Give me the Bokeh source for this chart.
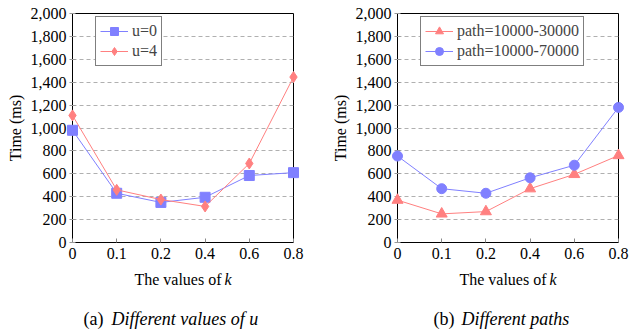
from bokeh.plotting import figure
from bokeh.models import Range1d, FixedTicker, NumeralTickFormatter
from bokeh.core.properties import value
from bokeh.layouts import row
from bokeh.embed import file_html
from bokeh.resources import INLINE

# ---- data ----
k_labels = ["0", "0.1", "0.2", "0.4", "0.6", "0.8"]
u0 = [980, 430, 350, 395, 585, 610]
u4 = [1110, 460, 375, 315, 690, 1445]
path_10000_30000 = [370, 250, 270, 470, 595, 760]
path_10000_70000 = [755, 470, 430, 565, 675, 1180]
y_ticks = list(range(0, 2001, 200))

BLUE = "#8080ff"
RED = "#ff8080"
FONT = "Liberation Serif"
FRAME_W = 221
FRAME_H = 229
Y_MAX = 2000


def add_text(p, xs, dx, dy, text, align, size, style="normal"):
    # position given in pixels from the frame's bottom-left corner (dy downward)
    x = xs[0] + dx * (xs[-1] - xs[0]) / FRAME_W
    y = -dy * Y_MAX / FRAME_H
    r = p.text(x=[x], y=[y], text=[text], text_align=align, text_baseline="middle",
               text_font=value(FONT), text_font_style=style, text_font_size=size,
               text_color="black")
    r.level = "overlay"


def make_panel(width, border_left, border_right, series, tag, caption, cap_dx):
    xs = list(range(len(k_labels)))
    p = figure(width=width, height=333, output_backend="svg", toolbar_location=None,
               x_range=Range1d(xs[0], xs[-1]), y_range=Range1d(0, Y_MAX),
               min_border_left=border_left, min_border_right=border_right,
               min_border_top=13, min_border_bottom=91)
    p.background_fill_color = "white"
    p.border_fill_color = "white"
    p.outline_line_color = "black"
    p.outline_line_width = 1

    for name, ys, color, marker, size in series:
        r1 = p.line(xs, ys, line_color=color, line_width=1, legend_label=name)
        r2 = p.scatter(xs, ys, marker=marker, size=size, fill_color=color,
                       line_color=color, legend_label=name)
        r1.level = "overlay"
        r2.level = "overlay"

    xa = p.xaxis[0]
    xa.ticker = FixedTicker(ticks=xs)
    xa.major_label_overrides = {i: lab for i, lab in zip(xs, k_labels)}
    xa.minor_tick_line_color = None
    xa.major_tick_in = 4
    xa.major_tick_out = 0
    xa.major_tick_line_color = "#888888"
    xa.axis_line_color = None
    xa.major_label_text_font = FONT
    xa.major_label_text_font_size = "16px"
    xa.major_label_text_color = "black"
    xa.major_label_standoff = 5

    ya = p.yaxis[0]
    ya.ticker = FixedTicker(ticks=y_ticks)
    ya.formatter = NumeralTickFormatter(format="0,0")
    ya.minor_tick_line_color = None
    ya.major_tick_in = 3
    ya.major_tick_out = 3
    ya.major_tick_line_color = "#999999"
    ya.axis_line_color = None
    ya.major_label_text_font = FONT
    ya.major_label_text_font_size = "16px"
    ya.major_label_text_color = "black"
    ya.major_label_standoff = 3
    ya.axis_label = "Time (ms)"
    ya.axis_label_text_font = FONT
    ya.axis_label_text_font_size = "16px"
    ya.axis_label_text_font_style = "normal"
    ya.axis_label_text_color = "black"
    ya.axis_label_standoff = 4

    p.xgrid.visible = False
    p.ygrid.ticker = FixedTicker(ticks=y_ticks)
    p.ygrid.grid_line_color = "#b0b0b0"
    p.ygrid.grid_line_dash = "4 3"
    p.ygrid.grid_line_width = 1

    lg = p.legend[0]
    lg.location = (23, 176)
    lg.border_line_color = "black"
    lg.border_line_width = 1
    lg.background_fill_color = "white"
    lg.background_fill_alpha = 1
    lg.label_text_font = FONT
    lg.label_text_font_size = "16px"
    lg.glyph_width = 28
    lg.glyph_height = 20
    lg.label_height = 20
    lg.spacing = 0
    lg.padding = 4
    lg.label_standoff = 4
    lg.margin = 0

    add_text(p, xs, 149, 37, "The values of", "right", "16px")
    add_text(p, xs, 152, 37, "k", "left", "16px", "italic")
    add_text(p, xs, cap_dx, 76, tag, "left", "18px")
    add_text(p, xs, cap_dx + 28, 76, caption, "left", "18px", "italic")
    return p


left = make_panel(322, 72, 29,
                  [("u=0", u0, BLUE, "square", 10), ("u=4", u4, RED, "diamond", 11)],
                  "(a)", "Different values of u", 11)
right = make_panel(307, 75, 11,
                   [("path=10000-30000", path_10000_30000, RED, "triangle", 11),
                    ("path=10000-70000", path_10000_70000, BLUE, "circle", 10)],
                   "(b)", "Different paths", 36)

layout = row(left, right)
open("out.html", "w").write(file_html(layout, INLINE))
